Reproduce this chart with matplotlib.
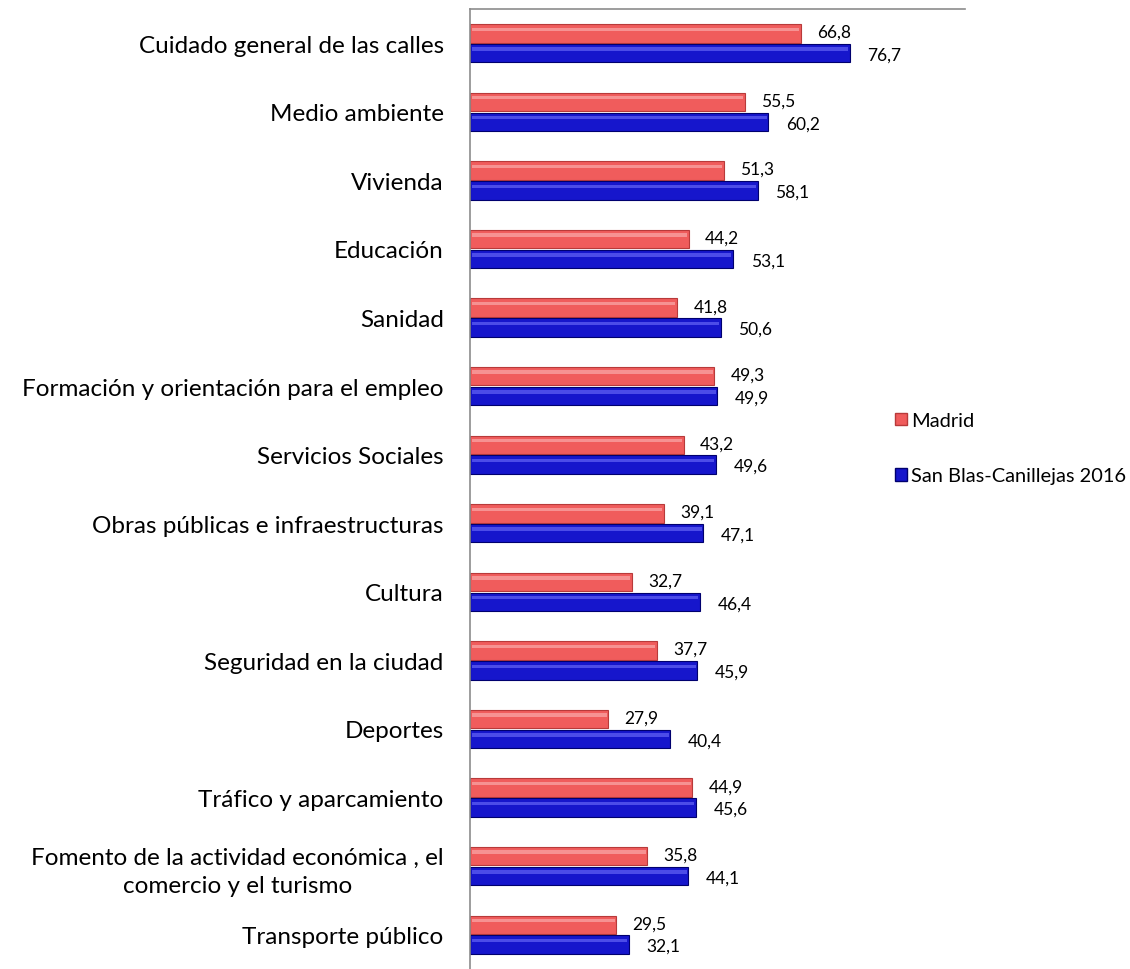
import numpy as np
import matplotlib
matplotlib.use('Agg')
from matplotlib import pyplot as plt
from matplotlib.patches import Patch

plt.rcParams['font.family'] = ['Lato', 'DejaVu Sans']

categorias = ['Cuidado general de las calles', 'Medio ambiente', 'Vivienda', 'Educación',
              'Sanidad', 'Formación y orientación para el empleo', 'Servicios Sociales',
              'Obras públicas e infraestructuras', 'Cultura', 'Seguridad en la ciudad',
              'Deportes', 'Tráfico y aparcamiento',
              'Fomento de la actividad económica , el\ncomercio y el turismo',
              'Transporte público']
madrid = [66.8, 55.5, 51.3, 44.2, 41.8, 49.3, 43.2, 39.1, 32.7, 37.7, 27.9, 44.9, 35.8, 29.5]
san_blas = [76.7, 60.2, 58.1, 53.1, 50.6, 49.9, 49.6, 47.1, 46.4, 45.9, 40.4, 45.6, 44.1, 32.1]
series = ['Madrid', 'San Blas-Canillejas 2016']

# colores (base, borde, brillo)
rojo = ('#F05C5C', '#B83A3A', '#F8A0A0')
azul = ('#1616CC', '#00006E', '#5A5AF0')

fig = plt.figure(figsize=(11.3, 9.7), dpi=100)
ax = fig.add_axes([0.416, 0.0, 0.438, 0.9897])

y = np.arange(len(categorias))
h = 0.27
off = 0.145

for vals, col, d in [(madrid, rojo, -off), (san_blas, azul, off)]:
    ax.barh(y + d, vals, height=h, color=col[0], edgecolor=col[1], linewidth=0.8, zorder=2)
    # brillo para imitar el degradado
    ax.barh(y + d - h * 0.22, np.array(vals) - 0.6, left=0.3, height=h * 0.18,
            color=col[2], linewidth=0, alpha=0.8, zorder=3)

for i in range(len(categorias)):
    ax.text(madrid[i] + 3.3, y[i] - off - 0.02, f'{madrid[i]:.1f}'.replace('.', ','),
            va='center', ha='left', fontsize=12.5)
    ax.text(san_blas[i] + 3.6, y[i] + off + 0.02, f'{san_blas[i]:.1f}'.replace('.', ','),
            va='center', ha='left', fontsize=12.5)

ax.set_xlim(0, 100)
ax.set_ylim(len(categorias) - 0.5, -0.5)
ax.set_yticks(y)
ax.set_yticklabels(categorias, fontsize=17.5, multialignment='center', linespacing=1.4)
ax.tick_params(axis='y', length=0, pad=19)
ax.set_xticks([])
for s in ['right', 'bottom']:
    ax.spines[s].set_visible(False)
for s in ['left', 'top']:
    ax.spines[s].set_color('#8C8C8C')
    ax.spines[s].set_linewidth(1.2)

handles = [Patch(facecolor=rojo[0], edgecolor=rojo[1]), Patch(facecolor=azul[0], edgecolor=azul[1])]
fig.legend(handles, series, loc='center left', bbox_to_anchor=(0.776, 0.537), frameon=False,
           fontsize=14.4, handlelength=0.6, handleheight=0.6, handletextpad=0.2, labelspacing=1.92)

fig.savefig('out.png', dpi=100)
